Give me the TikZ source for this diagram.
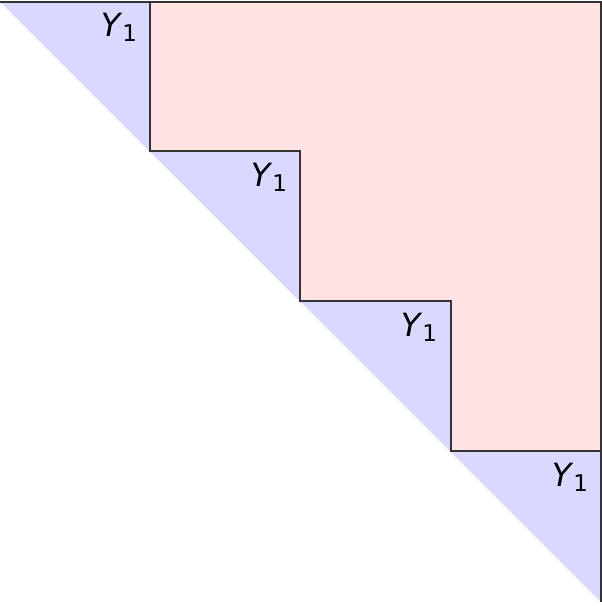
\documentclass[tikz,border=0pt]{standalone}
\usepackage{fontspec}
\setmainfont{DejaVu Sans}
\begin{document}
\begin{tikzpicture}[x=1pt,y=-1pt,
  edge/.style={draw=black!80,line width=1.6pt},
  lbl/.style={font=\fontsize{32}{38}\selectfont}]
\useasboundingbox (0,0) rectangle (602,606);
\fill[blue!15] (0,2) -- (601,602) -- (601,2) -- cycle;
\fill[red!11] (150,2) -- (150,151) -- (300,151) -- (300,301) -- (451,301) -- (451,451) -- (601,451) -- (601,2) -- cycle;
\draw[edge] (0,2) -- (601,2) -- (601,602);
\draw[edge] (150,2) -- (150,151) -- (300,151) -- (300,301) -- (451,301) -- (451,451) -- (601,451);
\node[lbl] (l1) at (119,27) {\textit{Y}\raisebox{-0.3ex}{\fontsize{23}{28}\selectfont 1}};
\node[lbl] (l2) at (269,177) {\textit{Y}\raisebox{-0.3ex}{\fontsize{23}{28}\selectfont 1}};
\node[lbl] (l3) at (419,327) {\textit{Y}\raisebox{-0.3ex}{\fontsize{23}{28}\selectfont 1}};
\node[lbl] (l4) at (570,477) {\textit{Y}\raisebox{-0.3ex}{\fontsize{23}{28}\selectfont 1}};
\end{tikzpicture}
\end{document}
